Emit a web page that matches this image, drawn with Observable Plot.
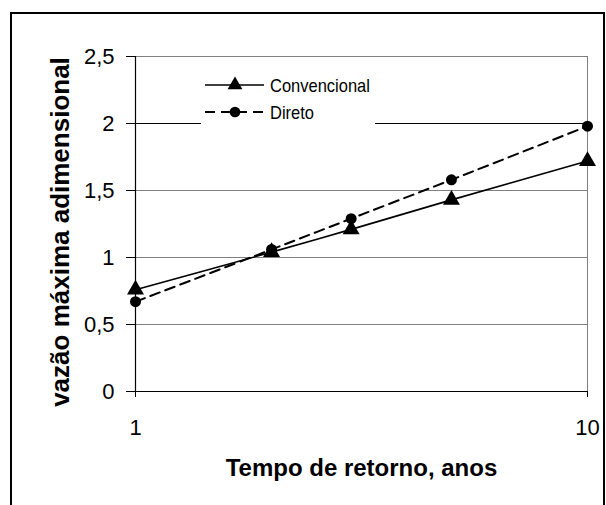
<!DOCTYPE html>
<html><head><meta charset="utf-8">
<script src="https://cdn.jsdelivr.net/npm/d3@7"></script>
<script src="https://cdn.jsdelivr.net/npm/@observablehq/plot@0.6"></script>
<style>
body{margin:0;background:#fff;}
#wrap{position:relative;width:606px;height:505px;overflow:hidden;font-family:"Liberation Sans",Arial,sans-serif;}
#chart{position:absolute;left:0;top:0;}
#border{position:absolute;left:10px;top:12px;width:595px;height:530px;border:2px solid #000;box-sizing:border-box;pointer-events:none;}
#legend{position:absolute;left:201px;top:68px;width:174px;height:60px;background:#fff;}
</style></head><body>
<div id="wrap"><div id="chart"></div><div id="legend"></div><div id="border"></div></div>
<script>
// Data
const years = [1, 2, 3, 5, 10];
const convencional = [0.76, 1.04, 1.21, 1.43, 1.72];
const direto = [0.67, 1.06, 1.29, 1.58, 1.98];
const seriesNames = ["Convencional", "Direto"];
const yTicks = [0, 0.5, 1, 1.5, 2, 2.5];
const xTicks = [1, 10];
const xTitle = "Tempo de retorno, anos";
const yTitle = "vazão máxima adimensional";

const convData = years.map((x, i) => ({x, y: convencional[i], s: seriesNames[0]}));
const dirData = years.map((x, i) => ({x, y: direto[i], s: seriesNames[1]}));
const fmt = v => String(v).replace(".", ",");
const font = "'Liberation Sans', Arial, sans-serif";

const chart = Plot.plot({
  width: 606, height: 505,
  marginLeft: 135, marginRight: 19, marginTop: 56, marginBottom: 114,
  style: {fontFamily: font, background: "transparent", color: "#000", overflow: "visible"},
  x: {type: "log", domain: [1, 10]},
  y: {domain: [0, 2.5]},
  marks: [
    Plot.ruleY(yTicks.filter(d => d > 0), {y: d => d, stroke: d => d === 2 ? "#000" : "#808080", strokeWidth: 1}),
    Plot.ruleX([10], {stroke: "#808080"}),
    Plot.ruleX([1], {stroke: "#000", strokeWidth: 1.2}),
    Plot.ruleY([0], {stroke: "#000", strokeWidth: 1.2}),
    Plot.axisY(yTicks, {tickSize: 9, tickPadding: 12, tickFormat: fmt, fontSize: 22, label: null, stroke: "#000"}),
    Plot.axisX(xTicks, {tickSize: 6, tickPadding: 22, tickFormat: d => String(d), fontSize: 22, label: null, stroke: "#000"}),
    Plot.line(convData, {x: "x", y: "y", stroke: "#000", strokeWidth: 1.6, curve: "catmull-rom"}),
    Plot.line(dirData, {x: "x", y: "y", stroke: "#000", strokeWidth: 2, strokeDasharray: "10,6", curve: "catmull-rom"}),
    Plot.dot(convData, {x: "x", y: "y", symbol: "triangle", r: 6.3, fill: "#000", stroke: "none"}),
    Plot.dot(dirData, {x: "x", y: "y", symbol: "circle", r: 5.5, fill: "#000", stroke: "none"}),
    Plot.text([xTitle], {frameAnchor: "bottom", dy: 84, fontSize: 24, fontWeight: "bold", fill: "#000", textAnchor: "middle"}),
    Plot.text([yTitle], {frameAnchor: "left", dx: -75, dy: 8, rotate: -90, textAnchor: "middle", lineAnchor: "middle", fontSize: 26, fontWeight: "bold", fill: "#000"})
  ]
});
document.getElementById("chart").appendChild(chart);

// Legend (inside plot area, white box)
const lg = d3.select("#legend").append("svg").attr("width", 174).attr("height", 60);
const styles = [
  {dash: null, sw: 1.6, sym: d3.symbolTriangle},
  {dash: "10,6", sw: 2, sym: d3.symbolCircle}
];
seriesNames.forEach((name, i) => {
  const cy = 17 + i * 27;
  const g = lg.append("g").attr("transform", `translate(0,${cy})`);
  g.append("line").attr("x1", 4).attr("x2", 63).attr("y1", 0).attr("y2", 0)
    .attr("stroke", "#000").attr("stroke-width", styles[i].sw)
    .attr("stroke-dasharray", styles[i].dash);
  g.append("path").attr("d", d3.symbol(styles[i].sym, i === 0 ? 95 : 90)()).attr("transform", "translate(34,0)").attr("fill", "#000");
  g.append("text").attr("x", 69).attr("y", 0).attr("dy", "0.35em")
    .attr("transform", "translate(69,0) scale(1,1.15) translate(-69,0)")
    .attr("font-family", font).attr("font-size", 16.5).text(name);
});
</script>
</body></html>
